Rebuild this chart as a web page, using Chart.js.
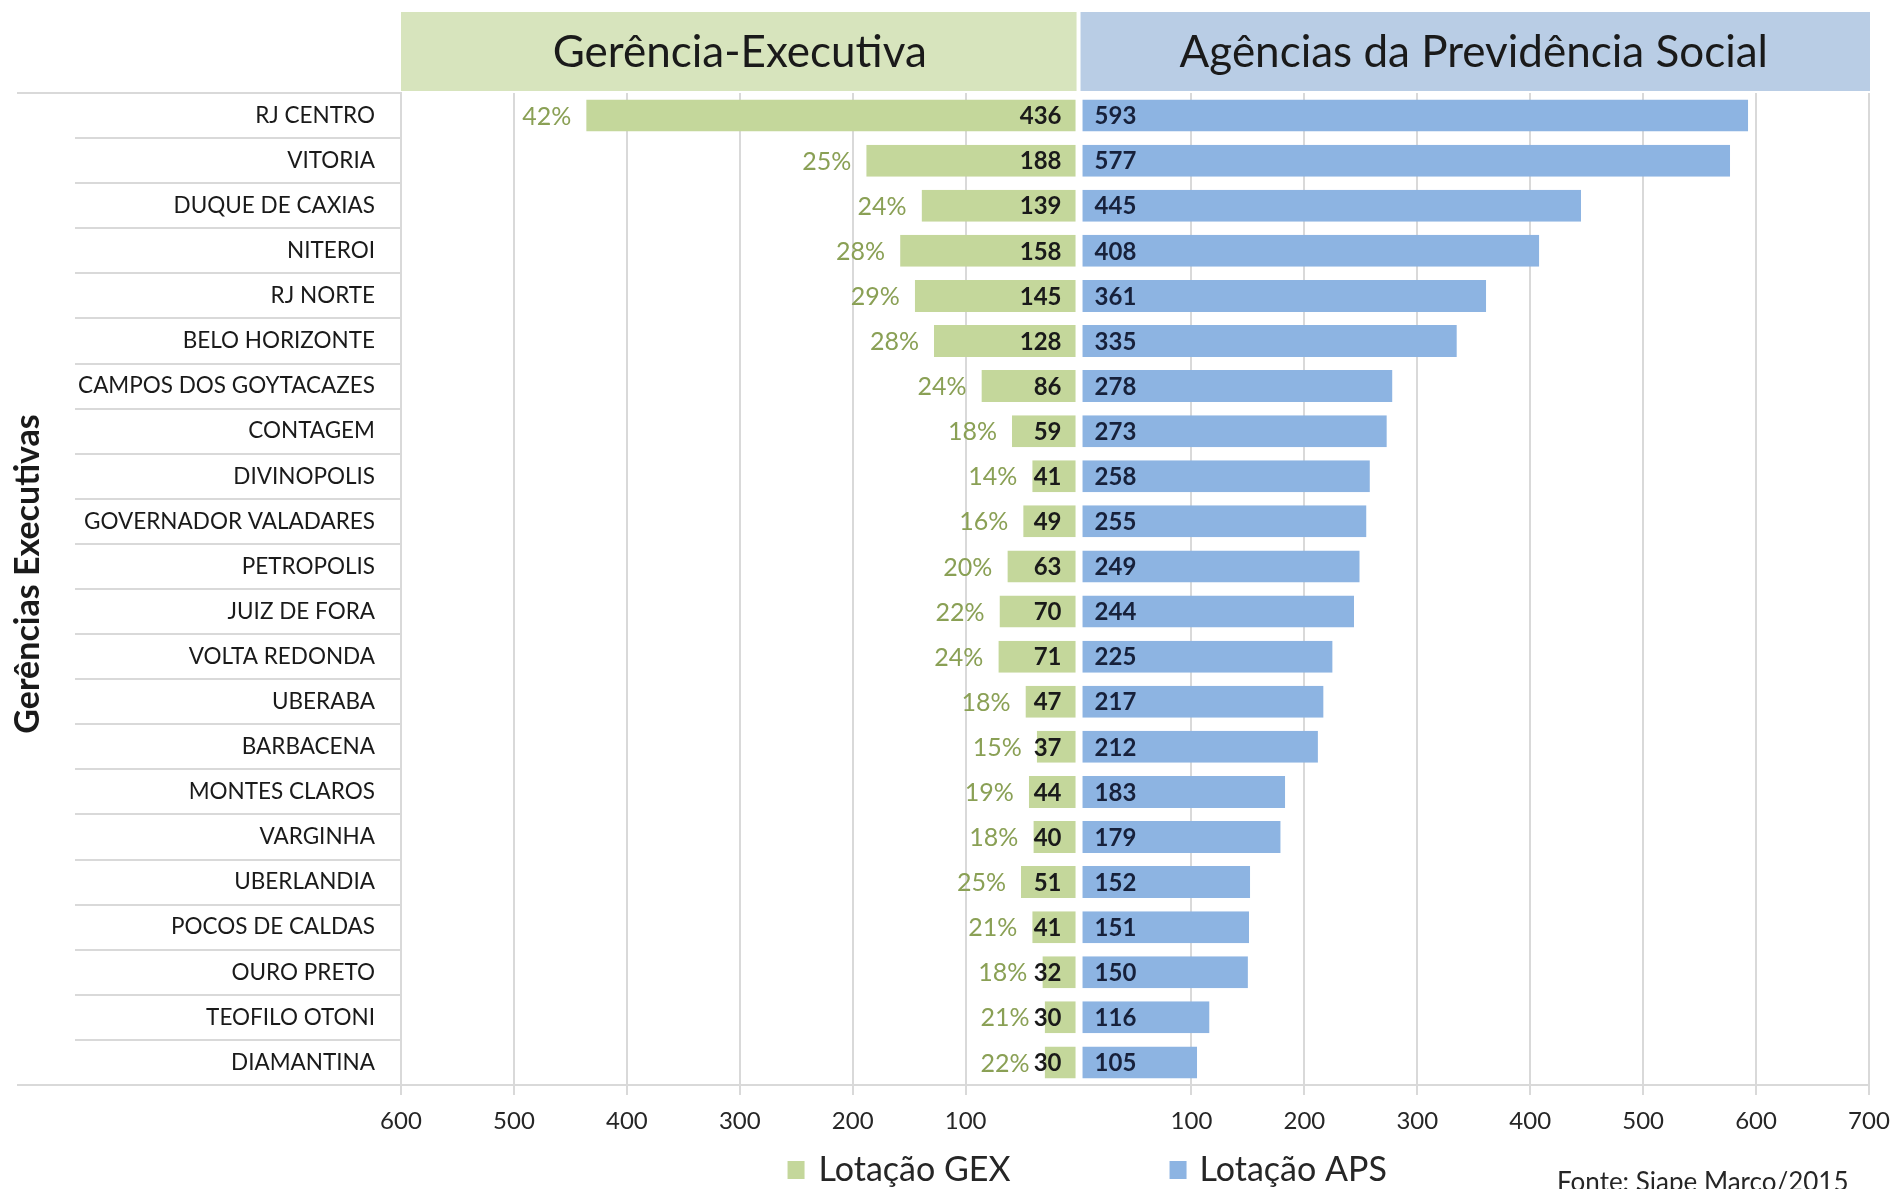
<!DOCTYPE html>
<html>
<head>
<meta charset="utf-8">
<script src="https://cdn.jsdelivr.net/npm/chart.js@4.4.1/dist/chart.umd.min.js"></script>
<style>
  html, body { margin: 0; padding: 0; background: #fff; }
  canvas { display: block; }
</style>
</head>
<body>
<canvas id="myChart" width="1896" height="1189"></canvas>
<script>
const categories = [
  "RJ CENTRO", "VITORIA", "DUQUE DE CAXIAS", "NITEROI", "RJ NORTE",
  "BELO HORIZONTE", "CAMPOS DOS GOYTACAZES", "CONTAGEM", "DIVINOPOLIS",
  "GOVERNADOR VALADARES", "PETROPOLIS", "JUIZ DE FORA", "VOLTA REDONDA",
  "UBERABA", "BARBACENA", "MONTES CLAROS", "VARGINHA", "UBERLANDIA",
  "POCOS DE CALDAS", "OURO PRETO", "TEOFILO OTONI", "DIAMANTINA"
];
const lotacaoGex = [436, 188, 139, 158, 145, 128, 86, 59, 41, 49, 63, 70, 71, 47, 37, 44, 40, 51, 41, 32, 30, 30];
const lotacaoAps = [593, 577, 445, 408, 361, 335, 278, 273, 258, 255, 249, 244, 225, 217, 212, 183, 179, 152, 151, 150, 116, 105];
const percentGex = [42, 25, 24, 28, 29, 28, 24, 18, 14, 16, 20, 22, 24, 18, 15, 19, 18, 25, 21, 18, 21, 22];
const xTicks = [-600, -500, -400, -300, -200, -100, 0, 100, 200, 300, 400, 500, 600, 700];

const FONT = "Lato, 'Open Sans', sans-serif";
const GREEN = "#c4d79b";
const BLUE = "#8db4e2";

const decorPlugin = {
  id: "decor",
  beforeDraw(chart) {
    const ctx = chart.ctx;
    const area = chart.chartArea;
    const x = chart.scales.x;
    const y = chart.scales.y;
    const zero = x.getPixelForValue(0);

    ctx.save();
    // header bands
    ctx.fillStyle = "#d7e4bd";
    ctx.fillRect(area.left, 12, zero - 2 - area.left, 79);
    ctx.fillStyle = "#b9cde5";
    ctx.fillRect(zero + 2, 12, area.right + 1 - zero - 2, 79);
    ctx.fillStyle = "#1a1a1a";
    ctx.font = "44px " + FONT;
    ctx.textAlign = "center";
    ctx.textBaseline = "middle";
    ctx.fillText("Gerência-Executiva", (area.left + zero) / 2, 53);
    ctx.fillText("Agências da Previdência Social", (zero + area.right) / 2, 53);

    // axis title
    ctx.save();
    ctx.translate(28, 574);
    ctx.rotate(-Math.PI / 2);
    ctx.font = "bold 34px " + FONT;
    ctx.fillText("Gerências Executivas", 0, 0);
    ctx.restore();

    // separator lines in the label column
    ctx.strokeStyle = "#d9d9d9";
    ctx.lineWidth = 2;
    ctx.beginPath();
    ctx.moveTo(17, area.top);
    ctx.lineTo(area.left, area.top);
    for (let i = 0; i < categories.length - 1; i++) {
      const yy = Math.round((y.getPixelForValue(i) + y.getPixelForValue(i + 1)) / 2);
      ctx.moveTo(75, yy);
      ctx.lineTo(area.left, yy);
    }
    ctx.moveTo(17, area.bottom);
    ctx.lineTo(area.left, area.bottom);
    ctx.stroke();
    ctx.restore();
  },
  afterDraw(chart) {
    const ctx = chart.ctx;
    const x = chart.scales.x;
    const zero = x.getPixelForValue(0);
    const gexMeta = chart.getDatasetMeta(0);
    const apsMeta = chart.getDatasetMeta(1);

    ctx.save();
    ctx.textBaseline = "middle";
    gexMeta.data.forEach((bar, i) => {
      ctx.font = "bold 24px " + FONT;
      ctx.fillStyle = "#1a1a1a";
      ctx.textAlign = "right";
      ctx.fillText(String(lotacaoGex[i]), zero - 17, bar.y + 1);
      ctx.font = "25px " + FONT;
      ctx.fillStyle = "#8aa055";
      ctx.fillText(percentGex[i] + "%", bar.x - 15, bar.y + 1);
    });
    apsMeta.data.forEach((bar, i) => {
      ctx.font = "bold 24px " + FONT;
      ctx.fillStyle = "#17213b";
      ctx.textAlign = "left";
      ctx.fillText(String(lotacaoAps[i]), zero + 16, bar.y + 1);
    });

    // legend
    const legendY = 1170;
    ctx.font = "34px " + FONT;
    ctx.fillStyle = GREEN;
    ctx.fillRect(zero - 291, legendY - 9, 17, 18);
    ctx.fillStyle = "#262626";
    ctx.fillText("Lotação GEX", zero - 260, legendY);
    ctx.fillStyle = BLUE;
    ctx.fillRect(zero + 91, legendY - 9, 17, 18);
    ctx.fillStyle = "#262626";
    ctx.fillText("Lotação APS", zero + 121, legendY);

    ctx.font = "26px " + FONT;
    ctx.fillStyle = "#262626";
    ctx.fillText("Fonte: Siape Marco/2015", 1557, 1183);
    ctx.restore();
  }
};

new Chart(document.getElementById("myChart").getContext("2d"), {
  type: "bar",
  data: {
    labels: categories,
    datasets: [
      {
        label: "Lotação GEX",
        data: lotacaoGex.map((v) => -v),
        backgroundColor: GREEN,
        borderColor: "#ffffff",
        borderWidth: { top: 0, bottom: 0, left: 0, right: 2 },
        borderSkipped: false,
        grouped: false,
        barPercentage: 0.71,
        categoryPercentage: 1,
      },
      {
        label: "Lotação APS",
        data: lotacaoAps,
        backgroundColor: BLUE,
        borderColor: "#ffffff",
        borderWidth: { top: 0, bottom: 0, left: 3, right: 0 },
        borderSkipped: false,
        grouped: false,
        barPercentage: 0.71,
        categoryPercentage: 1,
      },
    ],
  },
  options: {
    indexAxis: "y",
    responsive: false,
    animation: false,
    layout: {
      padding: { top: 93, right: 27, bottom: 54, left: 0 },
    },
    plugins: {
      legend: { display: false },
      tooltip: { enabled: false },
    },
    scales: {
      x: {
        type: "linear",
        min: -600,
        max: 700,
        afterBuildTicks: (scale) => {
          scale.ticks = xTicks.map((v) => ({ value: v }));
        },
        afterFit: (scale) => {
          scale.height = 50;
          scale.paddingLeft = 0;
          scale.paddingRight = 0;
        },
        grid: {
          color: (c) => (c.tick && c.tick.value === 0 ? "rgba(0,0,0,0)" : "#d9d9d9"),
          lineWidth: 2,
          tickLength: 10,
        },
        border: { display: true, color: "#d9d9d9", width: 2 },
        ticks: {
          padding: 12,
          color: "#262626",
          font: { family: FONT, size: 24 },
          callback: (v) => (v === 0 ? "" : String(Math.abs(v))),
        },
      },
      y: {
        afterFit: (scale) => {
          scale.width = 401;
        },
        grid: { display: false, drawTicks: false },
        border: { display: true, color: "#d9d9d9", width: 2 },
        ticks: {
          padding: 26,
          color: "#1a1a1a",
          font: { family: FONT, size: 22.5 },
        },
      },
    },
  },
  plugins: [decorPlugin],
});
</script>
</body>
</html>
